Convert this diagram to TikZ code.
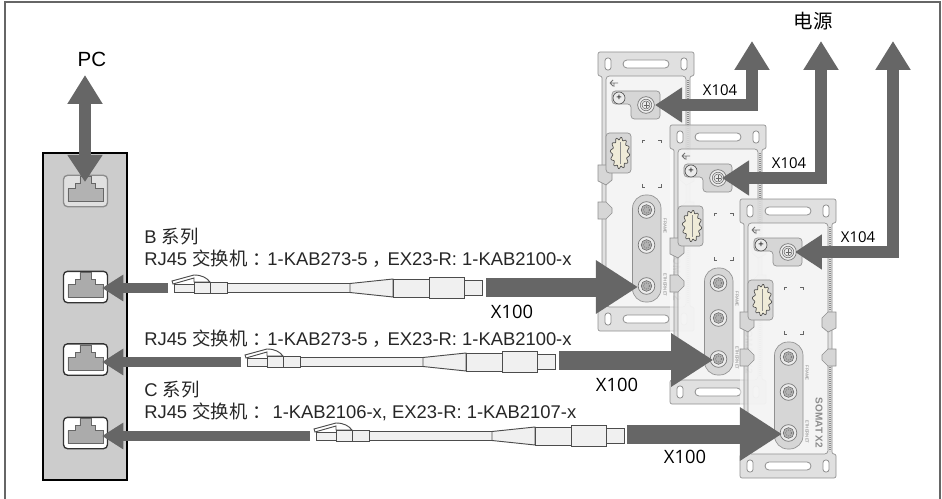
\documentclass[tikz,border=0pt]{standalone}
\usepackage{fontspec}
\usepackage{xcolor}
\setmainfont{Liberation Sans}
\newfontfamily\cjk{Noto Sans CJK SC}
\newfontfamily\labelfont{Open Sans}
\usetikzlibrary{arrows.meta}
\definecolor{arrowgray}{HTML}{666666}
\definecolor{rimgray}{HTML}{D6D6D6}
\definecolor{edgegray}{HTML}{909090}
\definecolor{glandcream}{HTML}{EFEBD8}
\newcommand{\partline}[1]{RJ45 {\cjk 交换机}#1}
\newcommand{\widemark}[1]{\hspace{0.28em}{\cjk #1}\hspace{-0.2em}}
\tikzset{
  heavy/.style={draw=arrowgray, line width=14.25pt, -{Triangle[length=31.5pt,width=38pt]}},
  medium/.style={draw=arrowgray, line width=9pt, -{Triangle[length=20.25pt,width=25pt]}},
  lean/.style={draw=arrowgray, line width=7.5pt, -{Triangle[length=16pt,width=19pt]}},
  caption/.style={anchor=base west, inner sep=0pt, font=\fontsize{13.8pt}{15pt}\selectfont, text=black!85},
  xlabel/.style={inner sep=0pt, font=\labelfont\fontsize{11.2pt}{13pt}\selectfont},
  plate/.style={fill=rimgray, draw=edgegray, line width=0.5pt},
  jack/.style={circle, minimum size=12.5pt, inner sep=0pt, fill=black!8, draw=black!55, line width=0.5pt},
  part/.style={fill=black!6, draw=black!70, line width=0.7pt},
  tinytext/.style={rotate=-90, inner sep=0pt, text=black!50, font=\fontsize{3.2pt}{4pt}\selectfont},
  pics/rjplug/.style={code={
    % plug housing and boot
    \draw[part] (1,-4) rectangle (21,4.5);
    \draw[black!70, line width=0.7pt, fill=white] (-1,-7) -- (21,-13) .. controls (29,-13) and (34,-10) .. (37,-6) -- (21,-6) -- (21,-10) -- (0,-4) -- cycle;
    \draw[part] (21,-6) rectangle (37,5.5);
    \draw[part] (37,-6) rectangle (54,5.5);
    \draw[part] (54,-4.5) rectangle (177,4.5);
    \draw[part] (177,-4.5) -- (220,-9) -- (220,9) -- (177,4.5) -- cycle;
    \draw[part] (220,-9) rectangle (256,9);
    \draw[part] (256,-10.5) rectangle (291,10.5);
    \draw[part] (291,-7.5) rectangle (309,7.5);
  }},
  pics/somat/.style={code={
    % rim and body
    \fill[white, fill opacity=0.5] (0,0) rectangle (96,279);
    \draw[plate, fill opacity=0.75, rounded corners=1.5pt] (0,0) -- (96,0) -- (96,24) -- (92,24) -- (92,255) -- (96,255) -- (96,279) -- (0,279) -- (0,255) -- (4,255) -- (4,24) -- (0,24) -- cycle;
    \draw[edgegray, fill=white, fill opacity=0.65, line width=0.5pt, rounded corners=2.5pt] (8,24) rectangle (88,255);
    \draw[black!45, line width=1.2pt, dash pattern=on 0.7pt off 0.8pt] (90,28) -- (90,112) (90,168) -- (90,252);
    \foreach \y in {0,255} {
      \draw[edgegray, fill=white, line width=0.6pt, rounded corners=2pt] (7,\y+6) rectangle (13,\y+18);
      \draw[edgegray, fill=white, line width=0.6pt, rounded corners=3pt] (25,\y+8) rectangle (71,\y+16);
      \draw[edgegray, fill=white, line width=0.6pt, rounded corners=2pt] (83,\y+6) rectangle (89,\y+18);
    }
    % side lugs
    \foreach \dx/\sx in {0/1,96/-1} {
      \draw[plate] (\dx,113) -- ++(\sx*8,0) -- ++(\sx*6,6) -- ++(0,9) -- ++(-\sx*6,5) -- ++(-\sx*8,-4) -- cycle;
      \draw[plate] (\dx,150) -- ++(\sx*8,0) -- ++(\sx*6,6) -- ++(0,5) -- ++(-\sx*6,6) -- ++(-\sx*8,0) -- cycle;
    }
    % top connector plate
    \draw[plate, rounded corners=2.5pt] (14,39) -- (62,39) -- (62,67) -- (33,67) -- (33,52) -- (14,52) -- cycle;
    \node[circle, minimum size=9pt, inner sep=0pt, fill=black!8, draw=black!70, line width=0.5pt, font=\scriptsize] (screw) at (21,46) {+};
    \node[jack] (pwr) at (48,53) {};
    \draw[black!60, line width=0.4pt] (pwr) circle (4.3pt) (pwr) circle (3pt);
    \draw[black!60, line width=0.4pt] (45.5,53) -- (50.5,53) (48,50) -- (48,56);
    \draw[black!55, line width=0.7pt] (12,31) -- (20,31) (12,31) -- (15,28) (12,31) -- (15,34) (16,31) -- (16,35);
    % gland
    \draw[plate, rounded corners=2.5pt] (8,81) -- (33,81) -- (33,121) -- (8,121) -- cycle;
    \draw[black!70, fill=glandcream, line width=0.5pt] plot[domain=0:360, samples=121, smooth] ({22+(8.5+1.3*sin(12*\x))*cos(\x)},{101+(14.5+1.3*sin(12*\x))*sin(\x)});
    \draw[black!45, line width=0.4pt] (22,90) -- (22,112);
    % corner marks
    \draw[black!60, line width=0.5pt] (44,91) |- (47,88) (60,88) -| (63,91) (44,132) |- (47,135) (60,135) -| (63,132);
    % lower plate with the three jacks
    \draw[plate, rounded corners=10pt] (34.5,143) rectangle (63,250);
    \foreach \n/\y in {top/158,mid/193,eth/234} {
      \node[jack] (\n) at (48.5,\y) {};
      \draw[black!60, line width=0.4pt, fill=black!30] (\n) circle (4pt);
      \draw[black!55, densely dotted, line width=0.6pt] (\n) circle (2.2pt);
    }
    \node[tinytext] (frame) at (67,174) {FRAME};
    \node[tinytext] (ethernet) at (67,233) {ETHERNET};
    \node[rotate=-90, inner sep=0pt, text=black!45, font=\bfseries\fontsize{7.5pt}{8pt}\selectfont] (name) at (79,224) {SOMAT X2};
  }}
}
\begin{document}
\begin{tikzpicture}[x=0.75pt, y=-0.75pt]
  \useasboundingbox (0,0) rectangle (942,499);
  \draw[black!60, line width=1pt] (5,499) |- (940,2) -- (940,499);

  % switch
  \node[draw=black, fill=black!20, line width=1.2pt, minimum width=63pt, minimum height=245pt, inner sep=0pt] (switch) at (85,316.5) {};
  \foreach \n/\y/\col/\fillcol/\rim in {0/191/black!12/black!30/black!45, 1/287/white/black!33/black!80, 2/359.5/white/black!33/black!80, 3/433/white/black!33/black!80} {
    \node[draw=\rim, fill=\col, line width=1pt, rounded corners=3pt, minimum width=33pt, minimum height=23.5pt, inner sep=0pt] (port\n) at (85.5,\y) {};
    \draw[draw=black!60, line width=0.5pt, fill=\fillcol] ([shift={(5,27)}]port\n.north west) -- ++(0,-13) -- ++(7.5,0) -- ++(0,-5) -- ++(4.5,0) -- ++(0,-7) -- ++(11,0) -- ++(0,7) -- ++(4.5,0) -- ++(0,5) -- ++(7.5,0) -- ++(0,13) -- cycle;
  }

  % modules
  \pic (m1) at (598,52) {somat};
  \pic (m2) at (670,125) {somat};
  \pic (m3) at (740,199) {somat};

  % cables
  \coordinate (plugA) at (173,288);
  \coordinate (plugB) at (246,362);
  \coordinate (plugC) at (315,436);
  \pic at (plugA) {rjplug};
  \pic at (plugB) {rjplug};
  \pic at (plugC) {rjplug};

  % arrows to the switch
  \coordinate (tailA) at (168,288);
  \coordinate (tailB) at (241,362);
  \coordinate (tailC) at (310,436);
  \draw[lean, shorten >=12.4pt] (tailA) -- (tailA -| port1.center);
  \draw[lean, shorten >=12.4pt] (tailB) -- (tailB -| port2.center);
  \draw[lean, shorten >=12.4pt] (tailC) -- (tailC -| port3.center);

  % arrows to the modules
  \coordinate (headA) at (486,287);
  \coordinate (headB) at (559,360);
  \coordinate (headC) at (627,434);
  \draw[heavy, shorten >=6.4pt] (headA) -- (headA -| m1eth.center);
  \draw[heavy, shorten >=4pt] (headB) -- (headB -| m2eth.center);
  \draw[heavy, shorten >=4.9pt] (headC) -- (headC -| m3eth.center);

  % power and PC
  \coordinate (supplyA) at (752,41);
  \coordinate (supplyB) at (821,41);
  \coordinate (supplyC) at (893,41);
  \coordinate (pcend) at (85,75);
  \tikzset{fork/.style={medium, {Triangle[length=21.75pt,width=25pt]}-{Triangle[length=20.25pt,width=25pt]}}}
  \draw[fork, shorten >=6.75pt] (supplyA) |- (m1pwr.center);
  \draw[fork, shorten >=3pt] (supplyB) |- (m2pwr.center);
  \draw[fork, shorten >=5.2pt] (supplyC) |- (m3pwr.center);
  \draw[fork, shorten >=6.75pt] (pcend) -- (pcend |- port0.center);

  % labels
  \node[inner sep=0pt, font=\fontsize{15.4pt}{16pt}\selectfont] (pc) at (92,59) {PC};
  \node[inner sep=0pt, font=\cjk\fontsize{14.6pt}{16pt}\selectfont] (power) at (813,21) {电源};
  \node[caption] (capA) at (144,243) {B {\cjk 系列}};
  \node[caption] (lineA) at (144,265) {\partline{\widemark{：}1-KAB273-5\widemark{，}EX23-R: 1-KAB2100-x}};
  \node[caption] (lineB) at (144,345) {\partline{\widemark{：}1-KAB273-5\widemark{，}EX23-R: 1-KAB2100-x}};
  \node[caption] (capC) at (144,396) {C {\cjk 系列}};
  \node[caption] (lineC) at (144,418) {\partline{\widemark{：} 1-KAB2106-x, EX23-R: 1-KAB2107-x}};
  \node[xlabel] (x104a) at (720,90) {X104};
  \node[xlabel] (x104b) at (789,163) {X104};
  \node[xlabel] (x104c) at (858,237) {X104};
  \node[xlabel, font=\labelfont\fontsize{13.8pt}{15pt}\selectfont] (x100a) at (512,312) {X100};
  \node[xlabel, font=\labelfont\fontsize{13.8pt}{15pt}\selectfont] (x100b) at (617,385) {X100};
  \node[xlabel, font=\labelfont\fontsize{13.8pt}{15pt}\selectfont] (x100c) at (685,457) {X100};
\end{tikzpicture}
\end{document}
